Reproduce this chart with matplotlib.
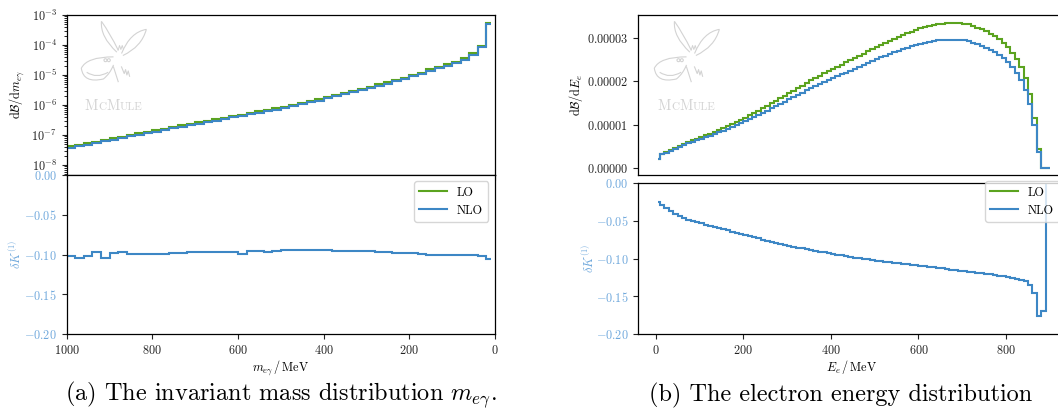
import numpy as np
import matplotlib
matplotlib.use("Agg")
import matplotlib.pyplot as plt
from matplotlib.ticker import FuncFormatter, FixedLocator
from matplotlib.offsetbox import TextArea, HPacker, AnchoredOffsetbox
from matplotlib.path import Path
from matplotlib.patches import PathPatch, Circle

FS = 8.8

plt.rcParams.update({
    "font.family": "serif",
    "font.serif": ["cmr10"],
    "mathtext.fontset": "cm",
    "axes.formatter.use_mathtext": True,
    "axes.unicode_minus": True,
    "font.size": FS,
})

# ---------------- data: invariant mass m_egamma (bins in MeV) ----------------
m_edges = [10, 20, 40, 60, 80, 100, 120, 140, 160, 180, 200, 220, 240, 260, 280,
           300, 320, 340, 360, 380, 400, 420, 440, 460, 480, 500, 520, 540, 560,
           580, 600, 620, 640, 660, 680, 700, 720, 740, 760, 780, 800, 820, 840,
           860, 880, 900, 920, 940, 960, 980, 1000]
m_lo = [5.55e-4, 9.27e-5, 5.27e-5, 3.60e-5, 2.78e-5, 2.27e-5, 1.90e-5, 1.55e-5,
        1.20e-5, 1.00e-5, 8.15e-6, 6.81e-6, 5.70e-6, 4.89e-6, 4.08e-6, 3.50e-6,
        3.01e-6, 2.58e-6, 2.15e-6, 1.90e-6, 1.55e-6, 1.36e-6, 1.17e-6, 1.00e-6,
        8.79e-7, 7.70e-7, 6.80e-7, 6.04e-7, 5.37e-7, 4.77e-7, 4.24e-7, 3.77e-7,
        3.35e-7, 2.98e-7, 2.65e-7, 2.35e-7, 2.10e-7, 1.85e-7, 1.63e-7, 1.44e-7,
        1.27e-7, 1.12e-7, 9.9e-8, 8.75e-8, 7.7e-8, 6.8e-8, 6.0e-8, 5.3e-8,
        4.7e-8, 4.15e-8]
m_dk = [-0.1055, -0.1015, -0.100, -0.100, -0.100, -0.100, -0.100, -0.100,
        -0.0995, -0.0985, -0.0975, -0.0975, -0.0965, -0.0965, -0.0957, -0.0955,
        -0.0955, -0.0952, -0.0952, -0.0945, -0.0945, -0.0948, -0.0948, -0.0943,
        -0.0943, -0.0955, -0.097, -0.0955, -0.0955, -0.099, -0.097, -0.097,
        -0.097, -0.097, -0.097, -0.097, -0.098, -0.0985, -0.099, -0.0995,
        -0.0995, -0.0995, -0.0995, -0.097, -0.098, -0.104, -0.097, -0.1025,
        -0.105, -0.102]

# ---------------- data: electron energy E_e (bins in MeV) ----------------
e_edges = [5] + list(range(10, 901, 10))
e_lo = [0.21, 0.32, 0.36, 0.41, 0.46, 0.50, 0.545, 0.59, 0.63, 0.67,
        0.71, 0.75, 0.79, 0.83, 0.87, 0.915, 0.96, 1.005, 1.055, 1.105,
        1.16, 1.215, 1.27, 1.325, 1.38, 1.435, 1.495, 1.55, 1.605, 1.665,
        1.725, 1.785, 1.845, 1.905, 1.965, 2.025, 2.08, 2.135, 2.185, 2.24,
        2.29, 2.34, 2.39, 2.44, 2.495, 2.545, 2.595, 2.645, 2.695, 2.75,
        2.805, 2.855, 2.90, 2.945, 2.99, 3.035, 3.075, 3.115, 3.155, 3.195,
        3.23, 3.26, 3.285, 3.305, 3.325, 3.34, 3.35, 3.355, 3.355, 3.35,
        3.34, 3.32, 3.29, 3.25, 3.21, 3.16, 3.11, 3.05, 2.98, 2.90,
        2.80, 2.67, 2.52, 2.33, 2.08, 1.70, 1.15, 0.43, 0.0, 0.0]
e_dk = [-0.025, -0.029, -0.033, -0.037, -0.041, -0.044, -0.0465, -0.0485, -0.0505, -0.052,
        -0.0535, -0.055, -0.0565, -0.058, -0.0595, -0.061, -0.0628, -0.0643, -0.0658, -0.0673,
        -0.069, -0.0705, -0.072, -0.0735, -0.075, -0.0765, -0.078, -0.0795, -0.081, -0.082,
        -0.083, -0.0845, -0.0855, -0.0865, -0.0878, -0.089, -0.090, -0.091, -0.092, -0.093,
        -0.094, -0.095, -0.096, -0.097, -0.098, -0.0988, -0.0996, -0.1004, -0.1012, -0.102,
        -0.1027, -0.1034, -0.1041, -0.1048, -0.1055, -0.1062, -0.1069, -0.1076, -0.1083, -0.109,
        -0.1097, -0.1104, -0.1111, -0.1118, -0.1125, -0.1132, -0.1139, -0.1146, -0.1153, -0.116,
        -0.1167, -0.1174, -0.1181, -0.1188, -0.1195, -0.1202, -0.121, -0.1218, -0.1226, -0.1234,
        -0.1243, -0.1253, -0.1265, -0.128, -0.130, -0.135, -0.1454, -0.1758, -0.170, 1.0]

m_lo = np.array(m_lo)
m_nlo = m_lo * (1 + np.array(m_dk))
e_lo = np.array(e_lo) * 1e-5
e_nlo = e_lo * (1 + np.array(e_dk))

C_LO = "#5ba31f"
C_NLO = "#3d87c5"
C_K = "#6fa8dc"
GREY = "#d3d3d3"

W, H = 1058, 417
fig = plt.figure(figsize=(W / 100, H / 100), dpi=100)


def box(x0, y0, x1, y1):
    return [x0 / W, 1 - y1 / H, (x1 - x0) / W, (y1 - y0) / H]


def fmt(n):
    return FuncFormatter(lambda v, p: r"$\mathdefault{%.*f}$" % (n, v))


def style(ax, kcol=None):
    ax.tick_params(direction="out", length=3.5, width=0.8, labelsize=FS,
                   colors="#222222")
    ax.tick_params(which="minor", length=2, width=0.6)
    if kcol:
        ax.tick_params(axis="y", labelcolor=kcol)
    for s in ax.spines.values():
        s.set_linewidth(0.9)


def logo(x0, y0, size):
    lax = fig.add_axes(box(x0, y0, x0 + size, y0 + size))
    lax.set_xlim(0, 1)
    lax.set_ylim(0, 1)
    lax.axis("off")
    kw = dict(fc="none", ec=GREY, lw=0.8)
    P = Path
    # ears
    lax.add_patch(PathPatch(P([(0.55, 0.52), (0.30, 0.75), (0.32, 0.98),
                               (0.45, 0.80), (0.57, 0.55)],
                              [P.MOVETO, P.CURVE3, P.CURVE3, P.CURVE3, P.CURVE3]), **kw))
    lax.add_patch(PathPatch(P([(0.62, 0.50), (0.75, 0.82), (0.99, 0.86),
                               (0.92, 0.60), (0.64, 0.47)],
                              [P.MOVETO, P.CURVE3, P.CURVE3, P.CURVE3, P.CURVE3]), **kw))
    # head
    lax.add_patch(PathPatch(P([(0.50, 0.45), (0.10, 0.45), (0.02, 0.28),
                               (0.05, 0.05), (0.35, 0.12), (0.45, 0.20), (0.50, 0.33)],
                              [P.MOVETO, P.CURVE3, P.CURVE3, P.CURVE3, P.CURVE3,
                               P.CURVE3, P.CURVE3]), **kw))
    lax.add_patch(PathPatch(P([(0.10, 0.22), (0.25, 0.12), (0.42, 0.22)],
                              [P.MOVETO, P.CURVE3, P.CURVE3]), **kw))
    lax.plot([0.50, 0.57], [0.30, 0.08], color=GREY, lw=0.8)
    lax.plot([0.62, 0.66, 0.68, 0.70, 0.72, 0.74],
             [0.30, 0.20, 0.26, 0.18, 0.24, 0.16], color=GREY, lw=0.8)
    lax.plot([0.57, 0.59, 0.61, 0.63, 0.65],
             [0.55, 0.62, 0.56, 0.62, 0.56], color=GREY, lw=0.7)
    for cx in (0.38, 0.43):
        lax.add_patch(Circle((cx, 0.40), 0.022, **kw))
    # name in small capitals
    parts = [TextArea(t, textprops=dict(color=GREY, size=s, family="serif"))
             for t, s in (("M", 10.5), ("C", 8), ("M", 10.5), ("ULE", 8))]
    pack = HPacker(children=parts, align="baseline", pad=0, sep=0)
    ab = AnchoredOffsetbox(loc="center", child=pack, frameon=False,
                           bbox_to_anchor=(0.5, -0.28), bbox_transform=lax.transAxes,
                           borderpad=0)
    lax.add_artist(ab)


# ---------------- panel (a) ----------------
a_top = fig.add_axes(box(66.7, 15, 495, 175))
a_bot = fig.add_axes(box(66.7, 175, 495, 334), sharex=a_top)

a_top.stairs(m_lo, m_edges, baseline=None, color=C_LO, lw=1.5, label="LO")
a_top.stairs(m_nlo, m_edges, baseline=None, color=C_NLO, lw=1.5, label="NLO")
a_top.set_yscale("log")
a_top.set_ylim(4.6e-9, 1e-3)
a_top.set_xlim(1000, 0)
a_top.tick_params(axis="x", labelbottom=False)
a_top.set_ylabel(r"$\mathrm{d}\mathcal{B}/\mathrm{d}m_{e\gamma}$", fontsize=FS)
a_top.yaxis.set_label_coords(-0.094, 0.5)
style(a_top)

a_bot.stairs(m_dk, m_edges, baseline=None, color=C_NLO, lw=1.5)
a_bot.set_ylim(-0.2, 0.0)
a_bot.yaxis.set_major_locator(FixedLocator([-0.2, -0.15, -0.1, -0.05, 0.0]))
a_bot.yaxis.set_major_formatter(fmt(2))
a_bot.set_xticks([1000, 800, 600, 400, 200, 0])
a_bot.set_ylabel(r"$\delta K^{(1)}$", color=C_K, fontsize=FS)
a_bot.yaxis.set_label_coords(-0.1, 0.5)
a_bot.set_xlabel(r"$m_{e\gamma}\,/\,\mathrm{MeV}$", fontsize=FS)
a_bot.xaxis.set_label_coords(0.5, -0.15)
style(a_bot, C_K)

h, l = a_top.get_legend_handles_labels()
a_bot.legend(h, l, loc="upper right", bbox_to_anchor=(488 / W, 1 - 181.5 / H),
             bbox_transform=fig.transFigure, borderaxespad=0, fontsize=FS,
             handlelength=2.3)

# ---------------- panel (b) ----------------
b_top = fig.add_axes(box(638, 15, 1065, 175))
b_bot = fig.add_axes(box(638, 183, 1065, 334), sharex=b_top)

b_top.stairs(e_lo, e_edges, baseline=None, color=C_LO, lw=1.5, label="LO")
b_top.stairs(e_nlo, e_edges, baseline=None, color=C_NLO, lw=1.5, label="NLO")
b_top.set_xlim(-40.4, 934.5)
b_top.set_ylim(-1.7e-6, 3.54e-5)
b_top.yaxis.set_major_locator(FixedLocator([0, 1e-5, 2e-5, 3e-5]))
b_top.yaxis.set_major_formatter(fmt(5))
b_top.set_ylabel(r"$\mathrm{d}\mathcal{B}/\mathrm{d}E_e$", fontsize=FS)
b_top.yaxis.set_label_coords(-0.125, 0.5)
style(b_top)
b_top.tick_params(axis="x", labelbottom=False, length=0)

b_bot.stairs(e_dk, e_edges, baseline=None, color=C_NLO, lw=1.5)
b_bot.set_ylim(-0.2, 0.0)
b_bot.yaxis.set_major_locator(FixedLocator([-0.2, -0.15, -0.1, -0.05, 0.0]))
b_bot.yaxis.set_major_formatter(fmt(2))
b_bot.set_xticks([0, 200, 400, 600, 800])
b_bot.set_ylabel(r"$\delta K^{(1)}$", color=C_K, fontsize=FS)
b_bot.yaxis.set_label_coords(-0.097, 0.5)
b_bot.set_xlabel(r"$E_e\,/\,\mathrm{MeV}$", fontsize=FS)
b_bot.xaxis.set_label_coords(0.5, -0.158)
style(b_bot, C_K)

h, l = b_top.get_legend_handles_labels()
b_bot.legend(h, l, loc="upper right", bbox_to_anchor=(1059 / W, 1 - 181.5 / H),
             bbox_transform=fig.transFigure, borderaxespad=0, fontsize=FS,
             handlelength=2.3)

# watermarks
logo(80, 20, 67)
logo(653, 20, 67)

# captions
fig.text(281 / W, 1 - 395 / H, r"(a) The invariant mass distribution $m_{e\gamma}$.",
         ha="center", va="center", fontsize=17.5)
fig.text(841 / W, 1 - 395 / H, "(b) The electron energy distribution",
         ha="center", va="center", fontsize=17.5)

fig.savefig("out.png", dpi=100)
